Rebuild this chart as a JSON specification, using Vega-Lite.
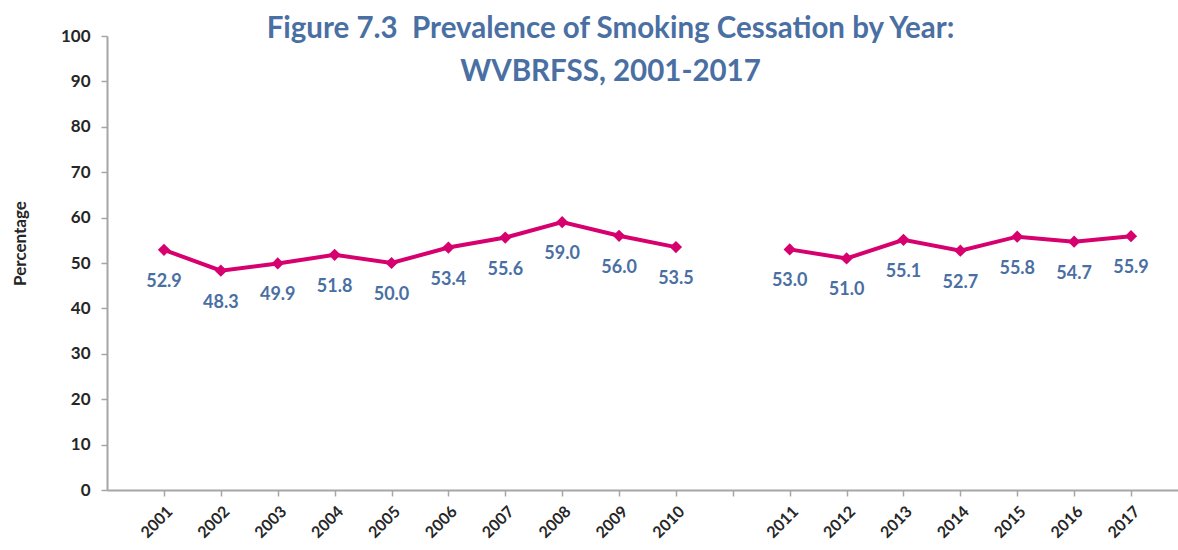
{
  "$schema": "https://vega.github.io/schema/vega-lite/v6.json",
  "width": 1071,
  "height": 454,
  "autosize": {"type": "none"},
  "padding": {"left": 107, "top": 36, "right": 0, "bottom": 60},
  "background": "white",
  "title": {
    "text": ["Figure 7.3 \u00a0Prevalence of Smoking Cessation by Year:", "WVBRFSS, 2001-2017"],
    "font": "Lato",
    "fontSize": 29.5,
    "fontWeight": "bold",
    "color": "#4a6fa3",
    "lineHeight": 43,
    "baseline": "alphabetic",
    "anchor": "middle",
    "offset": -83,
    "dx": -32
  },
  "data": {
    "values": [
      {"year": "2001", "pct": 52.9, "period": "A"},
      {"year": "2002", "pct": 48.3, "period": "A"},
      {"year": "2003", "pct": 49.9, "period": "A"},
      {"year": "2004", "pct": 51.8, "period": "A"},
      {"year": "2005", "pct": 50.0, "period": "A"},
      {"year": "2006", "pct": 53.4, "period": "A"},
      {"year": "2007", "pct": 55.6, "period": "A"},
      {"year": "2008", "pct": 59.0, "period": "A"},
      {"year": "2009", "pct": 56.0, "period": "A"},
      {"year": "2010", "pct": 53.5, "period": "A"},
      {"year": "2011", "pct": 53.0, "period": "B"},
      {"year": "2012", "pct": 51.0, "period": "B"},
      {"year": "2013", "pct": 55.1, "period": "B"},
      {"year": "2014", "pct": 52.7, "period": "B"},
      {"year": "2015", "pct": 55.8, "period": "B"},
      {"year": "2016", "pct": 54.7, "period": "B"},
      {"year": "2017", "pct": 55.9, "period": "B"}
    ]
  },
  "encoding": {
    "x": {
      "field": "year",
      "type": "ordinal",
      "scale": {
        "type": "point",
        "domain": ["2001","2002","2003","2004","2005","2006","2007","2008","2009","2010"," ","2011","2012","2013","2014","2015","2016","2017"],
        "padding": 0.914,
        "align": 0.548
      },
      "axis": {
        "title": null,
        "labelAngle": -45,
        "labelFont": "Lato",
        "labelFontSize": 16,
        "labelFontWeight": "bold",
        "labelColor": "#262626",
        "labelPadding": 7,
        "domainColor": "#a6a6a6",
        "domainWidth": 2,
        "tickColor": "#a6a6a6",
        "tickWidth": 1.5,
        "tickSize": 6,
        "grid": false
      }
    },
    "y": {
      "field": "pct",
      "type": "quantitative",
      "scale": {"domain": [0, 100], "nice": false},
      "axis": {
        "title": "Percentage",
        "titleFont": "Lato",
        "titleFontSize": 17,
        "titleFontWeight": "bold",
        "titleColor": "#262626",
        "titleAngle": -90,
        "titleX": -87,
        "titleY": 207,
        "titleAlign": "center",
        "titleBaseline": "middle",
        "values": [0,10,20,30,40,50,60,70,80,90,100],
        "labelFont": "Lato",
        "labelFontSize": 17,
        "labelFontWeight": "bold",
        "labelColor": "#262626",
        "labelPadding": 11,
        "domainColor": "#a6a6a6",
        "domainWidth": 2,
        "tickColor": "#a6a6a6",
        "tickWidth": 1.5,
        "tickSize": 6,
        "grid": false
      }
    }
  },
  "layer": [
    {
      "mark": {"type": "line", "color": "#d6006f", "strokeWidth": 4},
      "encoding": {"detail": {"field": "period"}}
    },
    {
      "mark": {"type": "point", "shape": "diamond", "filled": true, "opacity": 1, "color": "#d6006f", "size": 150}
    },
    {
      "mark": {"type": "text", "dy": 32, "baseline": "middle", "font": "Lato", "fontSize": 18, "fontWeight": "bold", "color": "#4a6fa3"},
      "encoding": {"text": {"field": "pct", "type": "quantitative", "format": ".1f"}}
    }
  ],
  "config": {"view": {"stroke": null}}
}
